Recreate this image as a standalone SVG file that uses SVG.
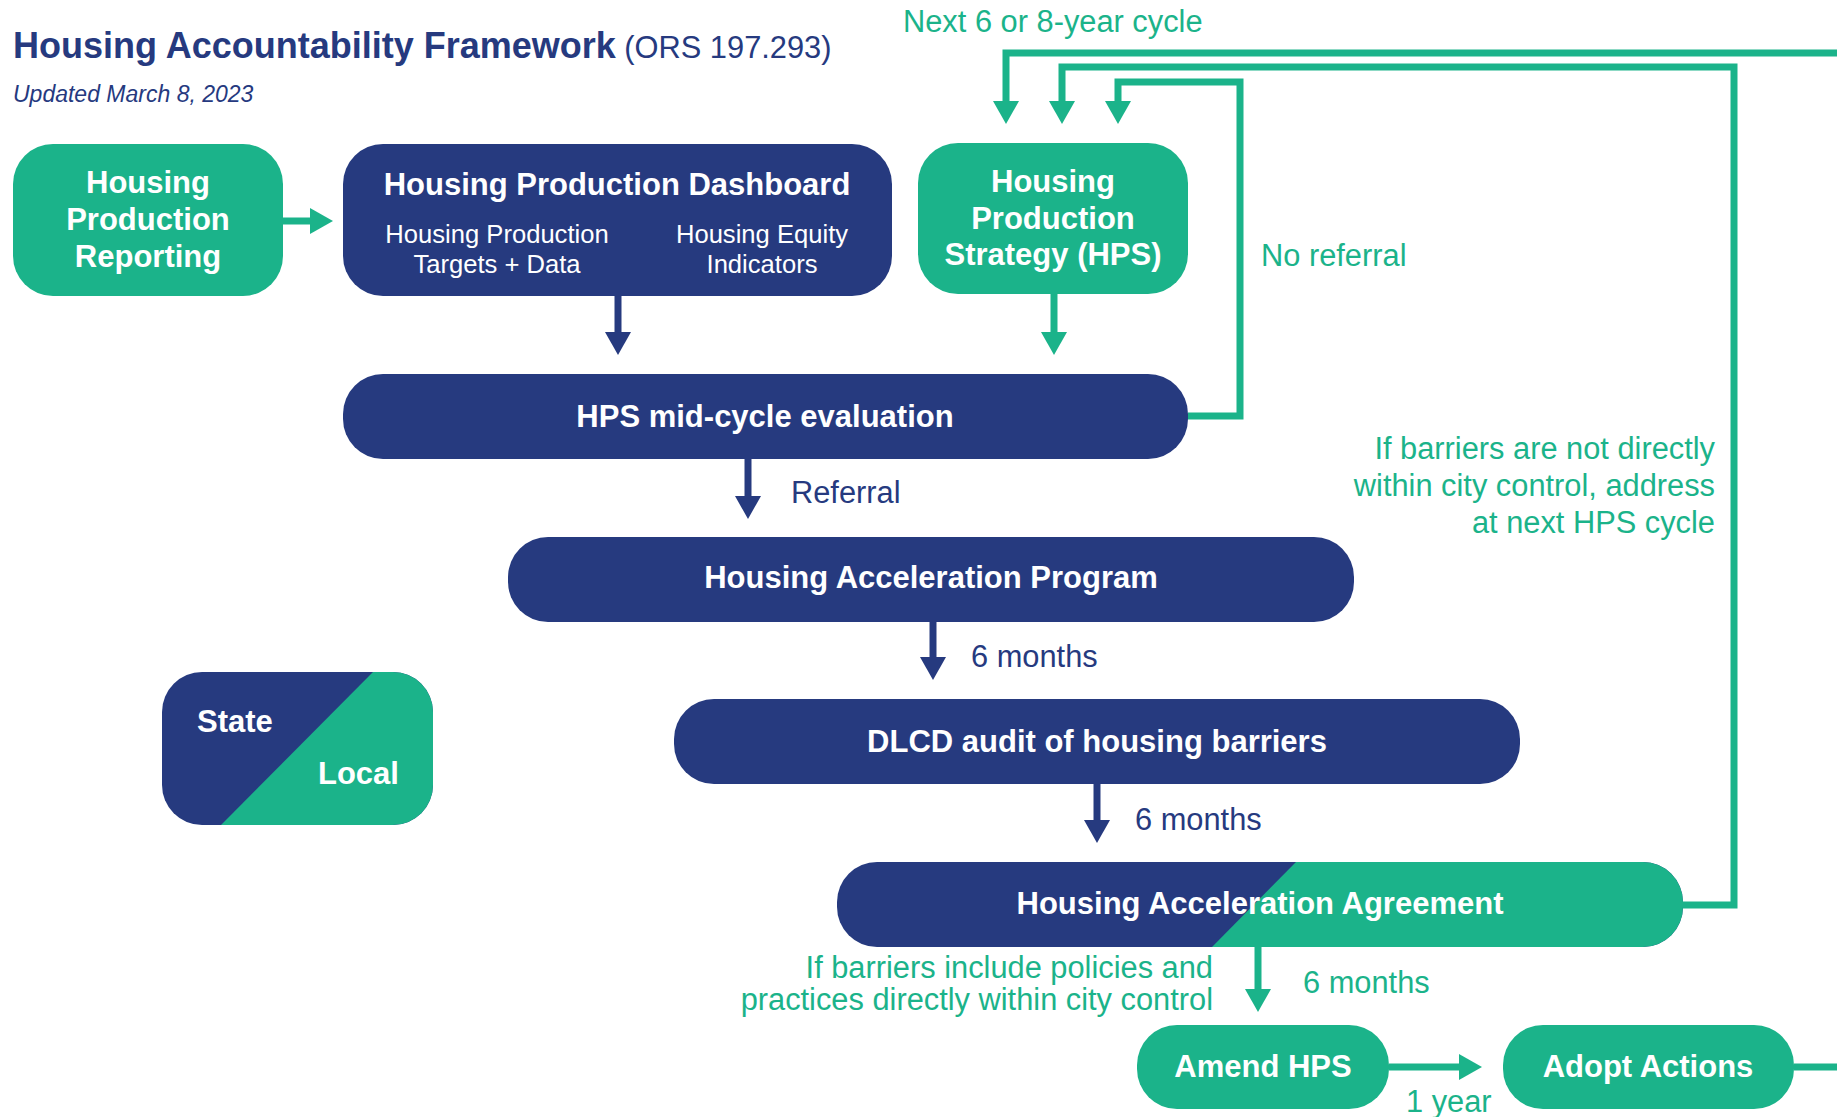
<svg xmlns="http://www.w3.org/2000/svg" width="1837" height="1117" viewBox="0 0 1837 1117">
<defs>
<style>
.navy{fill:#263A7F}
.green{fill:#1BB38A}
.nt{font-family:"Liberation Sans",Arial,sans-serif;font-weight:bold;font-size:31px;fill:#fff;text-anchor:middle}
.lt{font-family:"Liberation Sans",Arial,sans-serif;font-weight:bold;font-size:31px;fill:#fff;text-anchor:start}
.st{font-family:"Liberation Sans",Arial,sans-serif;font-size:25.6px;fill:#fff;text-anchor:middle}
.gl{font-family:"Liberation Sans",Arial,sans-serif;font-size:30.8px;fill:#1BB38A}
.nl{font-family:"Liberation Sans",Arial,sans-serif;font-size:30.8px;fill:#263A7F}
.gc{fill:none;stroke:#1BB38A;stroke-width:7;stroke-linejoin:miter}
.nc{fill:none;stroke:#263A7F;stroke-width:7}
</style>
<marker id="ag" markerUnits="userSpaceOnUse" markerWidth="24" markerHeight="26" refX="0" refY="13" orient="auto" overflow="visible"><path d="M0,0 L23,13 L0,26 Z" fill="#1BB38A"/></marker>
<marker id="an" markerUnits="userSpaceOnUse" markerWidth="24" markerHeight="26" refX="0" refY="13" orient="auto" overflow="visible"><path d="M0,0 L23,13 L0,26 Z" fill="#263A7F"/></marker>
<clipPath id="haaClip"><rect x="837" y="862" width="846" height="85" rx="40" ry="40"/></clipPath>
<clipPath id="legClip"><rect x="162" y="672" width="271" height="153" rx="40" ry="40"/></clipPath>
</defs>
<rect width="1837" height="1117" fill="#fff"/>

<g id="title">
<text x="13" y="58" font-family="Liberation Sans, Arial, sans-serif" font-size="36" font-weight="bold" fill="#263A7F">Housing Accountability Framework<tspan font-weight="normal" font-size="30.8"> (ORS 197.293)</tspan></text>
<text x="13" y="102" font-family="Liberation Sans, Arial, sans-serif" font-size="23" font-style="italic" fill="#263A7F">Updated March 8, 2023</text>
</g>

<g id="connectors">
<line class="gc" x1="283" y1="221" x2="310" y2="221" marker-end="url(#ag)"/>
<line class="nc" x1="618" y1="296" x2="618" y2="332" marker-end="url(#an)"/>
<line class="gc" x1="1054" y1="294" x2="1054" y2="332" marker-end="url(#ag)"/>
<line class="nc" x1="748" y1="458" x2="748" y2="496" marker-end="url(#an)"/>
<line class="nc" x1="933" y1="621" x2="933" y2="657" marker-end="url(#an)"/>
<line class="nc" x1="1097" y1="784" x2="1097" y2="820" marker-end="url(#an)"/>
<line class="gc" x1="1258" y1="947" x2="1258" y2="989" marker-end="url(#ag)"/>
<line class="gc" x1="1389" y1="1067" x2="1459" y2="1067" marker-end="url(#ag)"/>
<polyline class="gc" points="1188,416 1240,416 1240,82 1118,82 1118,101" marker-end="url(#ag)"/>
<polyline class="gc" points="1683,905 1734,905 1734,67 1062,67 1062,101" marker-end="url(#ag)"/>
<polyline class="gc" points="1794,1067 1850,1067"/>
<polyline class="gc" points="1850,53 1006,53 1006,101" marker-end="url(#ag)"/>
</g>

<g id="labels">
<text class="gl" x="903" y="32">Next 6 or 8-year cycle</text>
<text class="gl" x="1261" y="266">No referral</text>
<text class="nl" x="791" y="503">Referral</text>
<text class="nl" x="971" y="667">6 months</text>
<text class="nl" x="1135" y="830">6 months</text>
<text class="gl" x="1303" y="993">6 months</text>
<text class="gl" x="1406" y="1112">1 year</text>
<text class="gl" text-anchor="end"><tspan x="1715" y="459">If barriers are not directly</tspan><tspan x="1715" y="496">within city control, address</tspan><tspan x="1715" y="533">at next HPS cycle</tspan></text>
<text class="gl" text-anchor="end"><tspan x="1213" y="978">If barriers include policies and</tspan><tspan x="1213" y="1010">practices directly within city control</tspan></text>
</g>

<g id="hpr">
<rect class="green" x="13" y="144" width="270" height="152" rx="40" ry="40"/>
<text class="nt"><tspan x="148" y="193">Housing</tspan><tspan x="148" y="230">Production</tspan><tspan x="148" y="267">Reporting</tspan></text>
</g>

<g id="hpd">
<rect class="navy" x="343" y="144" width="549" height="152" rx="40" ry="40"/>
<text class="nt" x="617" y="195">Housing Production Dashboard</text>
<text class="st"><tspan x="497" y="243">Housing Production</tspan><tspan x="497" y="273">Targets + Data</tspan></text>
<text class="st"><tspan x="762" y="243">Housing Equity</tspan><tspan x="762" y="273">Indicators</tspan></text>
</g>

<g id="hps">
<rect class="green" x="918" y="143" width="270" height="151" rx="40" ry="40"/>
<text class="nt"><tspan x="1053" y="192">Housing</tspan><tspan x="1053" y="229">Production</tspan><tspan x="1053" y="265">Strategy (HPS)</tspan></text>
</g>

<g id="midcycle">
<rect class="navy" x="343" y="374" width="845" height="85" rx="40" ry="40"/>
<text class="nt" x="765" y="427">HPS mid-cycle evaluation</text>
</g>

<g id="hap">
<rect class="navy" x="508" y="537" width="846" height="85" rx="40" ry="40"/>
<text class="nt" x="931" y="588">Housing Acceleration Program</text>
</g>

<g id="dlcd">
<rect class="navy" x="674" y="699" width="846" height="85" rx="40" ry="40"/>
<text class="nt" x="1097" y="752">DLCD audit of housing barriers</text>
</g>

<g id="haa">
<g clip-path="url(#haaClip)">
<rect class="navy" x="837" y="862" width="846" height="85"/>
<polygon class="green" points="1296,862 1690,862 1690,947 1212,947"/>
</g>
<text class="nt" x="1260" y="914">Housing Acceleration Agreement</text>
</g>

<g id="amend">
<rect class="green" x="1137" y="1025" width="252" height="84" rx="40" ry="40"/>
<text class="nt" x="1263" y="1077">Amend HPS</text>
</g>

<g id="adopt">
<rect class="green" x="1503" y="1025" width="291" height="84" rx="40" ry="40"/>
<text class="nt" x="1648" y="1077">Adopt Actions</text>
</g>

<g id="legend">
<g clip-path="url(#legClip)">
<rect class="navy" x="162" y="672" width="271" height="153"/>
<polygon class="green" points="373,672 440,672 440,825 221,825"/>
</g>
<text class="lt" x="197" y="732">State</text>
<text class="lt" x="318" y="784">Local</text>
</g>
</svg>
